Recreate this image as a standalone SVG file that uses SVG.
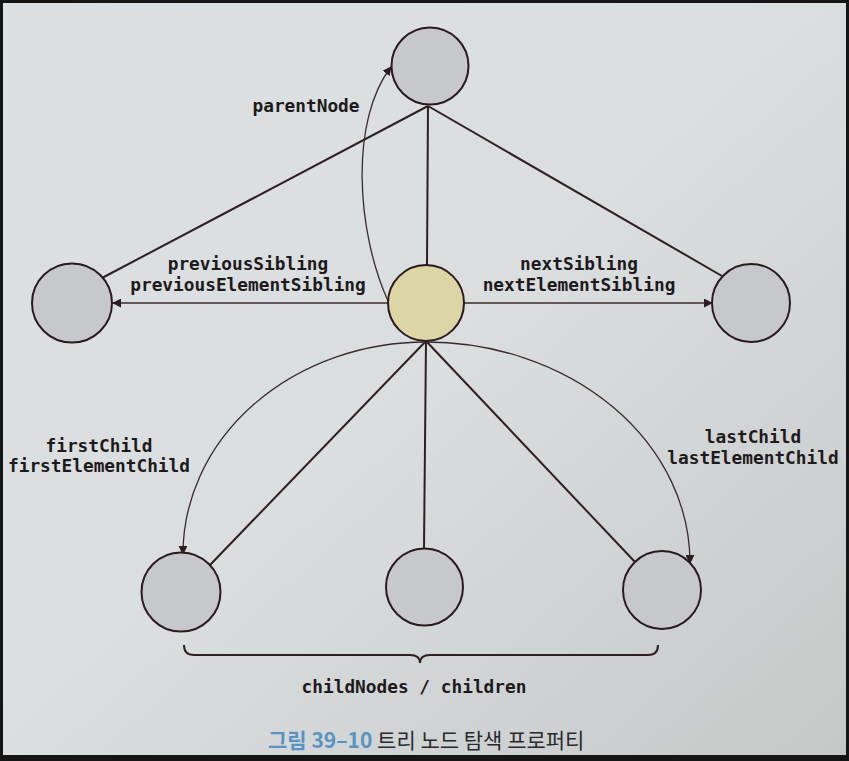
<svg xmlns="http://www.w3.org/2000/svg" width="849" height="761" viewBox="0 0 849 761">
  <defs>
    <linearGradient id="paper" x1="0" y1="0" x2="1" y2="1">
      <stop offset="0" stop-color="#dce0e2"/>
      <stop offset="0.5" stop-color="#dadedf"/>
      <stop offset="1" stop-color="#c6c8c8"/>
    </linearGradient>
    <marker id="arr" viewBox="0 0 10 10" refX="9" refY="5" markerWidth="9" markerHeight="9" markerUnits="userSpaceOnUse" orient="auto">
      <path d="M0,0 L10,5 L0,10 z" fill="#2a1c20"/>
    </marker>
    <style>
      .node { stroke: #2a1a1e; stroke-width: 2; fill: #c7c8cb; }
      .cur { fill: #dcd5a6; }
      .tree { stroke: #2f1f22; stroke-width: 2; fill: none; }
      .nav { stroke: #3a2a2c; stroke-width: 1.3; fill: none; marker-end: url(#arr); }
      .lbl { font-family: "DejaVu Sans Mono", "Liberation Mono", monospace; font-weight: bold; font-size: 17.8px; fill: #1e1a1c; text-anchor: middle; }
      .cap { font-family: "Noto Sans CJK KR", "Noto Sans", sans-serif; font-size: 21px; }
    </style>
  </defs>
  <rect x="0" y="0" width="849" height="761" fill="#151515"/>
  <rect x="3" y="3" width="843" height="752" fill="url(#paper)"/>

  <g id="connectors">
    <line class="tree" x1="428" y1="106" x2="102" y2="278"/>
    <line class="tree" x1="428" y1="106" x2="427" y2="265"/>
    <line class="tree" x1="428" y1="106" x2="722" y2="276"/>
    <line class="tree" x1="426" y1="341" x2="210" y2="565"/>
    <line class="tree" x1="426" y1="341" x2="424" y2="548"/>
    <line class="tree" x1="426" y1="341" x2="635" y2="562"/>
    <line class="nav" x1="388" y1="303" x2="113" y2="303"/>
    <line class="nav" x1="464" y1="303" x2="712" y2="303"/>
    <path class="nav" d="M388,301 C356,230 350,120 391,67"/>
    <path class="nav" d="M426,342 A243,212 0 0 0 183,554"/>
    <path class="nav" d="M426,342 A264,221 0 0 1 690,563"/>
    <path class="tree" stroke-width="1.5" d="M184,645 Q184,655 194,655 L410,655 Q420,655 420,663 Q420,655 430,655 L648,655 Q658,655 658,645"/>
  </g>

  <g id="parent"><circle class="node" cx="430" cy="66" r="38.5"/></g>
  <g id="previous"><ellipse class="node" cx="72" cy="303" rx="40" ry="39.5"/></g>
  <g id="current"><circle class="node cur" cx="426" cy="303" r="38"/></g>
  <g id="next"><circle class="node" cx="751" cy="303" r="39"/></g>
  <g id="child-first"><circle class="node" cx="181" cy="592" r="39.5"/></g>
  <g id="child-middle"><circle class="node" cx="424.5" cy="587" r="38.5"/></g>
  <g id="child-last"><circle class="node" cx="662" cy="590" r="39"/></g>

  <g id="labels">
    <text class="lbl" x="306" y="112">parentNode</text>
    <text class="lbl" x="248" y="270">previousSibling</text>
    <text class="lbl" x="248" y="291">previousElementSibling</text>
    <text class="lbl" x="579" y="270">nextSibling</text>
    <text class="lbl" x="579" y="291">nextElementSibling</text>
    <text class="lbl" x="99" y="452">firstChild</text>
    <text class="lbl" x="99" y="472">firstElementChild</text>
    <text class="lbl" x="753" y="443">lastChild</text>
    <text class="lbl" x="753" y="464">lastElementChild</text>
    <text class="lbl" x="414" y="693">childNodes / children</text>
  </g>

  <text class="cap" x="268" y="748"><tspan fill="#5a93c0" font-weight="bold">그림 39–10</tspan><tspan fill="#2a2a2c"> 트리 노드 탐색 프로퍼티</tspan></text>
</svg>
